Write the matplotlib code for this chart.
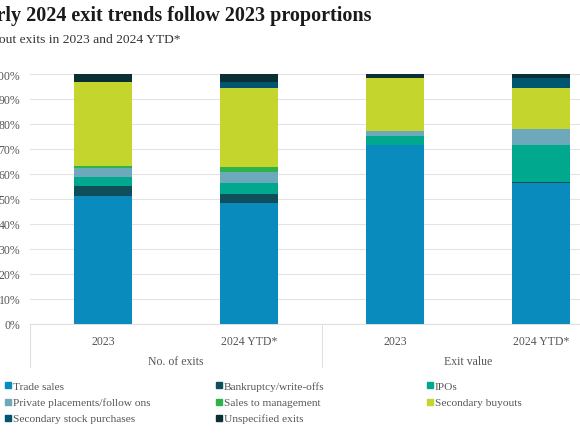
import matplotlib.pyplot as plt
import numpy as np
from matplotlib.patches import Rectangle
import matplotlib.transforms as mtransforms

plt.rcParams["font.family"] = ["Liberation Serif", "DejaVu Serif"]

categories = ["2023", "2024 YTD*", "2023", "2024 YTD*"]
groups = ["No. of exits", "Exit value"]

series = ["Trade sales", "Bankruptcy/write-offs", "IPOs",
          "Private placements/follow ons", "Sales to management",
          "Secondary buyouts", "Secondary stock purchases", "Unspecified exits"]

trade_sales = [51.3, 48.4, 71.6, 56.6]
bankruptcy = [4.0, 3.6, 0.0, 0.3]
ipos = [3.5, 4.3, 3.6, 14.7]
private_placements = [3.5, 4.7, 1.9, 6.4]
sales_to_mgmt = [0.9, 1.7, 0.0, 0.0]
secondary_buyouts = [33.7, 31.6, 21.3, 16.4]
secondary_stock = [0.0, 2.5, 0.0, 3.9]
unspecified = [3.1, 3.2, 1.6, 1.7]

colors = ["#0a8bbd", "#0f4f5b", "#00a88e", "#6da9bb",
          "#2eb24c", "#c4d52d", "#005570", "#0c2f36"]

values = [trade_sales, bankruptcy, ipos, private_placements,
          sales_to_mgmt, secondary_buyouts, secondary_stock, unspecified]

W, H = 580, 435
fig = plt.figure(figsize=(W / 100, H / 100), dpi=100)
ax = fig.add_axes([30 / W, (H - 325) / H, 584 / W, 250 / H])

x = np.arange(len(categories))
bottom = np.zeros(len(categories))
for name, vals, col in zip(series, values, colors):
    ax.bar(x, vals, width=0.4, bottom=bottom, color=col, label=name, zorder=3)
    bottom += np.array(vals)

ax.set_xlim(-0.5, 3.5)
ax.set_ylim(0, 100)
ax.set_yticks(np.arange(0, 101, 10))
ax.set_yticklabels([f"{v}%" for v in range(0, 101, 10)])
ax.yaxis.grid(True, color="#e3e3e3", linewidth=0.8, zorder=0)
for s in ["top", "right", "left"]:
    ax.spines[s].set_visible(False)
ax.spines["bottom"].set_color("#e0e0e0")
ax.tick_params(axis="y", length=0, pad=7, labelsize=8.5, labelcolor="#555555")
ax.tick_params(axis="x", length=0, pad=8, labelsize=8.5, labelcolor="#555555")
ax.set_xticks(x)
ax.set_xticklabels(categories)

# group separators and group labels
trans = mtransforms.blended_transform_factory(ax.transData, ax.transAxes)
for xs in [-0.5, 1.5, 3.5]:
    ax.plot([xs, xs], [0, -0.172], transform=trans, color="#e0e0e0",
            linewidth=0.8, clip_on=False)
for i, g in enumerate(groups):
    ax.text(2 * i + 0.5, -0.148, g, transform=trans, ha="center", va="center",
            fontsize=8.5, color="#555555")

# title and subtitle, cut on the left like the source
fig.text(372 / W, 1 - 16 / H, "Early 2024 exit trends follow 2023 proportions",
         ha="right", va="center", fontsize=14.5, fontweight="bold", color="#1a1a1a")
fig.text(180 / W, 1 - 40 / H, "Share of buyout exits in 2023 and 2024 YTD*",
         ha="right", va="center", fontsize=9.7, color="#333333")

# legend laid out in rows of three
col_x = [5, 216, 427]
row_y = [386, 403, 419]
for i, (name, col) in enumerate(zip(series, colors)):
    r, c = divmod(i, 3)
    px, py = col_x[c], row_y[r]
    fig.add_artist(Rectangle((px / W, (H - py - 3) / H), 6 / W, 6 / H,
                             transform=fig.transFigure, color=col))
    fig.text((px + 8) / W, 1 - (py + 3.5) / H, name, ha="left", va="baseline",
             fontsize=8.2, color="#555555")

fig.savefig("out.png", dpi=100)
